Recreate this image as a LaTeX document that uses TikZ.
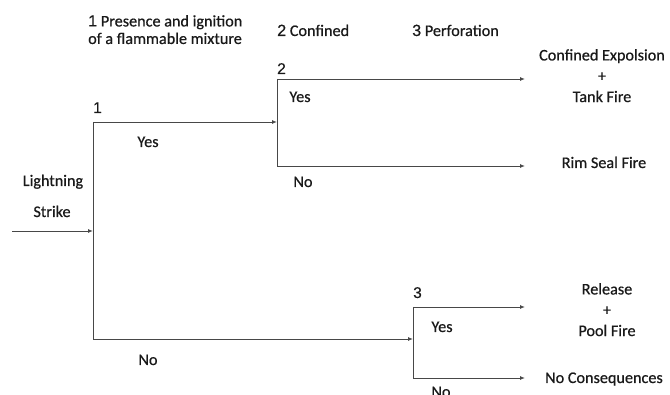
\documentclass[tikz,border=0pt]{standalone}
\usepackage{fontspec}
\setmainfont{Carlito}[FakeBold=0.6]
\newfontfamily\digitfont{Liberation Sans}[FakeBold=0.4]
\usetikzlibrary{arrows.meta}
\begin{document}
\begin{tikzpicture}[x=1pt,y=-1pt,
  line/.style={draw=black!72, line width=0.9pt},
  arr/.style={line, -{Latex[length=5pt,width=4pt]}},
  lbl/.style={font=\fontsize{16.2}{18}\selectfont, text=black!90, inner sep=0pt},
  num/.style={font=\digitfont\fontsize{15.5}{18}\selectfont, text=black!90, inner sep=0pt, anchor=base west},
  outcome/.style={font=\fontsize{16.2}{20.8}\selectfont, text=black!90, inner sep=0pt, align=center, anchor=north},
  header/.style={font=\fontsize{16.2}{18}\selectfont, text=black!90, inner sep=0pt, anchor=base west}]
\useasboundingbox (0,0) rectangle (670,395);
% junctions
\coordinate (start) at (12,231);
\coordinate (j1) at (93,231);
\coordinate (j1y) at (93,122);
\coordinate (j1n) at (93,339);
\coordinate (j2) at (277,122);
\coordinate (j2y) at (277,79);
\coordinate (j2n) at (277,166);
\coordinate (j3) at (413,339);
\coordinate (j3y) at (413,307);
\coordinate (j3n) at (413,378);
\coordinate (e1) at (525,79);
\coordinate (e2) at (525,166);
\coordinate (e3) at (525,307);
\coordinate (e4) at (525,378);
% headers
\node[header, align=left, anchor=north west] (h1) at (88,15) {{\digitfont 1} Presence and ignition\\[-0.5pt]of a flammable mixture};
\node[header] (h2) at (277,36) {{\digitfont 2} Confined};
\node[header] (h3) at (412,36) {{\digitfont 3} Perforation};
% initiating event
\node[lbl, anchor=base] (ls1) at (53,186) {Lightning};
\node[lbl, anchor=base] (ls2) at (52,217) {Strike};
% branch labels
\node[num] (n1) at (93,113) {1};
\node[num] (n2) at (277,74) {2};
\node[num] (n3) at (413,298) {3};
\node[lbl, anchor=base] (y1) at (148,147) {Yes};
\node[lbl, anchor=base] (no1) at (148,365) {No};
\node[lbl, anchor=base] (y2) at (300,102) {Yes};
\node[lbl, anchor=base] (no2) at (303,187) {No};
\node[lbl, anchor=base] (y3) at (442,332) {Yes};
\node[lbl, anchor=base] (no3) at (441,397) {No};
% outcomes
\node[outcome] (o1) at (602,49) {Confined Expolsion\\+\\Tank Fire};
\node[lbl, anchor=base] (o2) at (604,168) {Rim Seal Fire};
\node[outcome] (o3) at (607,283) {Release\\+\\Pool Fire};
\node[lbl, anchor=base] (o4) at (604,383) {No Consequences};
% connectors
\draw[arr] (start) -- (j1);
\draw[line] (j1y) -- (j1n);
\draw[arr] (j1y) -- (j2);
\draw[arr] (j1n) -- (j3);
\draw[line] (j2y) -- (j2n);
\draw[arr] (j2y) -- (e1);
\draw[arr] (j2n) -- (e2);
\draw[line] (j3y) -- (j3n);
\draw[arr] (j3y) -- (e3);
\draw[arr] (j3n) -- (e4);
\end{tikzpicture}
\end{document}
